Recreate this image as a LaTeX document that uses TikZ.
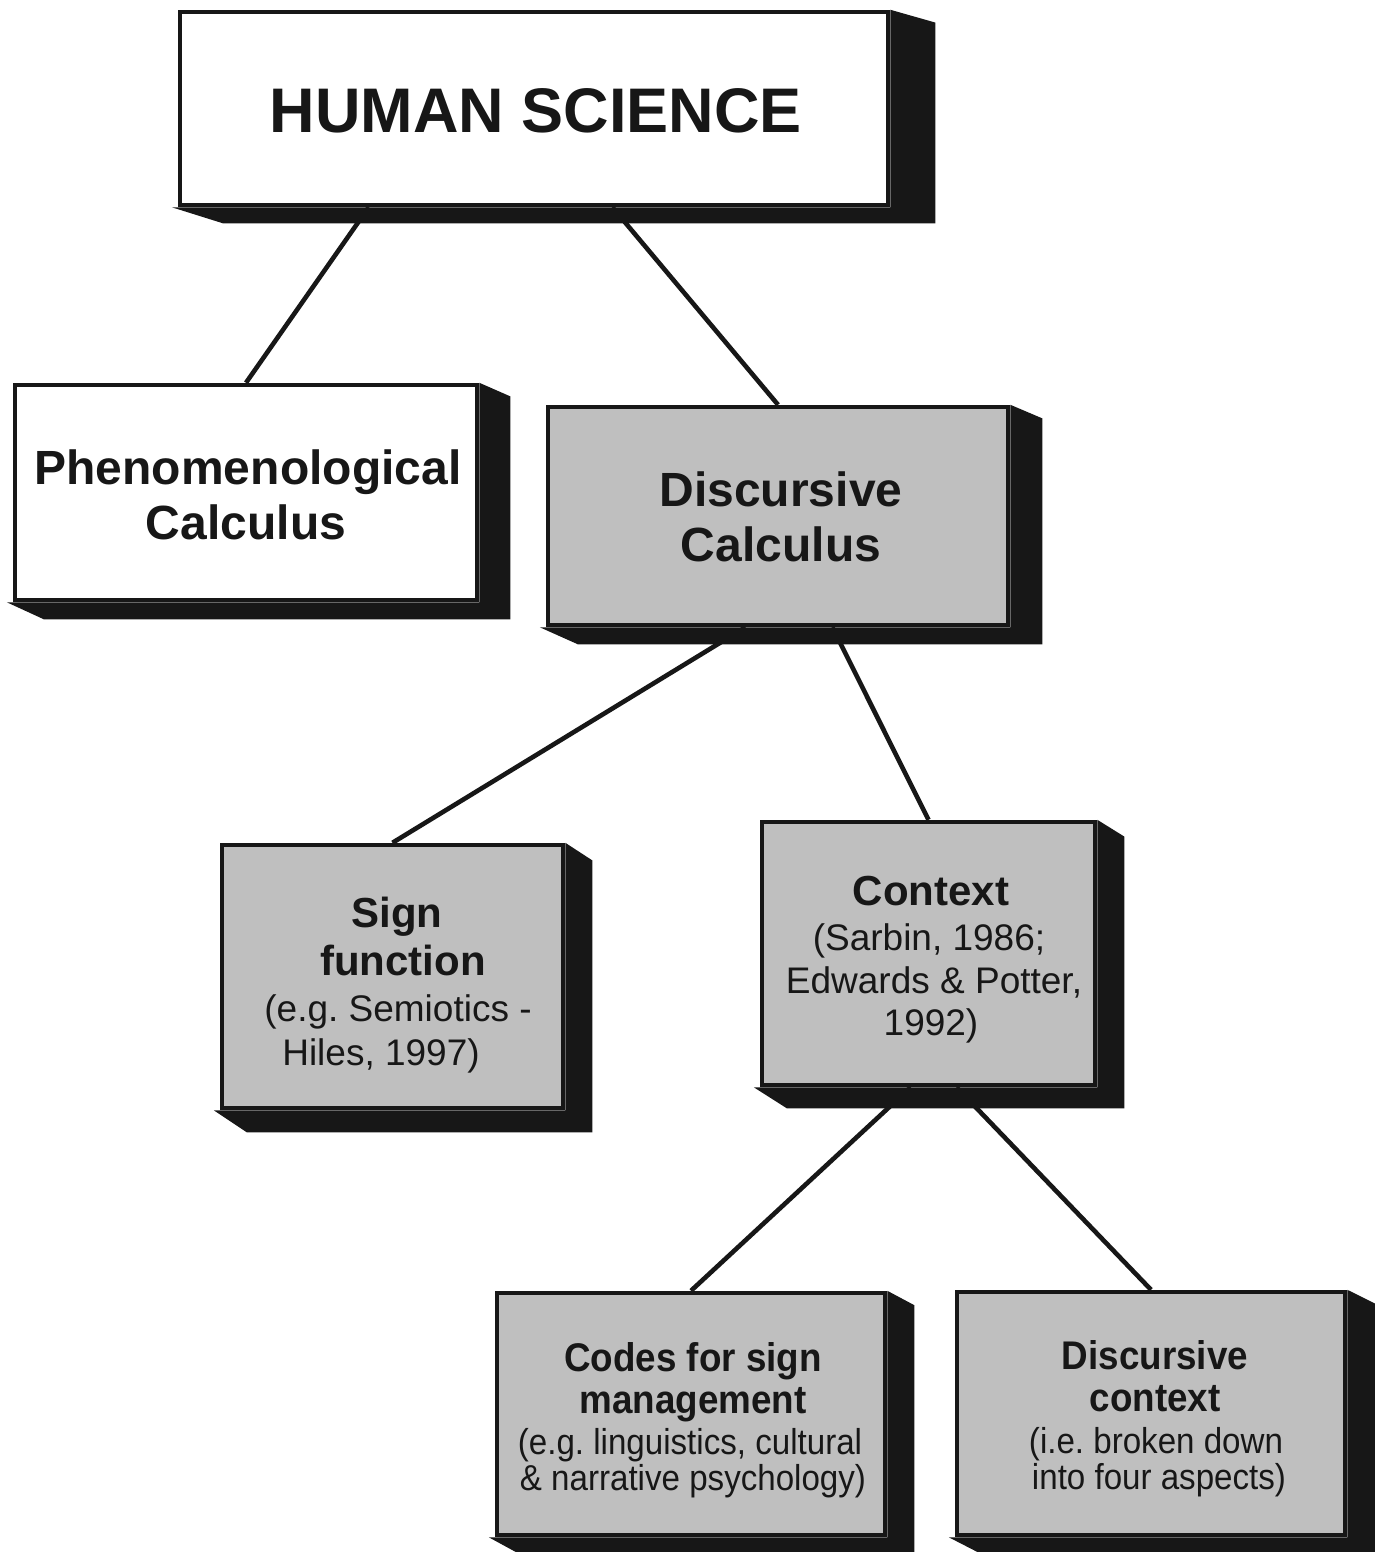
\documentclass[tikz,border=0pt]{standalone}
\usepackage{fontspec}
\setmainfont{Liberation Sans}
\newfontfamily\narrowsans[FakeStretch=0.92]{Liberation Sans}
\usetikzlibrary{calc,backgrounds}
\definecolor{boxgrey}{gray}{0.75}
\definecolor{ink}{gray}{0.09}
\tikzset{
  box/.style={rectangle, draw=ink, line width=4.5pt, inner sep=0pt},
  whitebox/.style={box, fill=white},
  greybox/.style={box, fill=boxgrey},
  link/.style={draw=ink, line width=4.6pt},
  txt/.style={anchor=base, inner sep=0pt, text=ink},
  hsfont/.style={font=\fontsize{63}{63}\selectfont\bfseries},
  bigfont/.style={font=\fontsize{48}{48}\selectfont\bfseries},
  midfont/.style={font=\fontsize{42}{42}\selectfont\bfseries},
  midreg/.style={font=\fontsize{37}{37}\selectfont},
  lowfont/.style={font=\narrowsans\fontsize{40}{40}\selectfont\bfseries},
  lowreg/.style={font=\narrowsans\fontsize{36}{36}\selectfont},
}
% solid block extruded to the right and below a box: node, depth x, depth y
\newcommand{\solidside}[3]{%
  \fill[ink] ([xshift=-6pt]#1.south west)
    -- ([xshift=#2pt,yshift=-#3pt]#1.south west)
    -- ([xshift=#2pt,yshift=-#3pt]#1.south east)
    -- ([xshift=#2pt,yshift=-#3pt*0.8]#1.north east)
    -- (#1.north east) -- (#1.south east) -- cycle;}
\frenchspacing
\begin{document}
\begin{tikzpicture}[x=1pt,y=1pt]
\useasboundingbox (0,0) rectangle (1374,-1552);

% boxes
\node[whitebox, minimum width=708pt, minimum height=193pt] (hs) at (534,-108.5) {};
\node[whitebox, minimum width=462pt, minimum height=215pt] (phen) at (246,-492.5) {};
\node[greybox, minimum width=460pt, minimum height=218pt] (disc) at (778,-516) {};
\node[greybox, minimum width=341pt, minimum height=263pt] (sign) at (392.5,-976.5) {};
\node[greybox, minimum width=333pt, minimum height=263pt] (ctx) at (928.5,-953.5) {};
\node[greybox, minimum width=388pt, minimum height=242pt] (codes) at (691,-1414) {};
\node[greybox, minimum width=388pt, minimum height=243pt] (dctx) at (1151,-1413.5) {};

\begin{pgfonlayer}{background}
  \fill[white] (0,0) rectangle (1374,-1552);
  % connectors
  \draw[link] ($(hs.south west)!0.268!(hs.south east)$) -- (phen.north);
  \draw[link] ($(hs.south west)!0.61!(hs.south east)$) -- (disc.north);
  \draw[link] ($(disc.south west)!0.43!(disc.south east)$) -- (sign.north);
  \draw[link] ($(disc.south west)!0.617!(disc.south east)$) -- (ctx.north);
  \draw[link] ($(ctx.south west)!0.447!(ctx.south east)$) -- (codes.north);
  \draw[link] ($(ctx.south west)!0.583!(ctx.south east)$) -- (dctx.north);
  % extruded sides
  \solidside{hs}{45}{16}
  \solidside{phen}{31}{17}
  \solidside{disc}{32}{17}
  \solidside{sign}{27}{22}
  \solidside{ctx}{27}{21}
  \solidside{codes}{27}{18}
  \solidside{dctx}{29}{18}
\end{pgfonlayer}

% labels
\node[txt, hsfont] (hs-l1) at (536,-132) {HUMAN SCIENCE};

\node[txt, bigfont] (phen-l1) at (248,-484) {Phenomenological};
\node[txt, bigfont] (phen-l2) at (246,-539) {Calculus};

\node[txt, bigfont] (disc-l1) at (781,-506) {Discursive};
\node[txt, bigfont] (disc-l2) at (781,-561) {Calculus};

\node[txt, midfont] (sign-l1) at (397,-927) {Sign};
\node[txt, midfont] (sign-l2) at (403,-975) {function};
\node[txt, midreg] (sign-l3) at (398,-1021) {(e.g. Semiotics -};
\node[txt, midreg] (sign-l4) at (381,-1065) {Hiles, 1997)};

\node[txt, midfont] (ctx-l1) at (931,-905) {Context};
\node[txt, midreg] (ctx-l2) at (929,-950) {(Sarbin, 1986;};
\node[txt, midreg] (ctx-l3) at (934,-993) {Edwards \& Potter,};
\node[txt, midreg] (ctx-l4) at (931,-1035) {1992)};

\node[txt, lowfont] (codes-l1) at (693,-1371) {Codes for sign};
\node[txt, lowfont] (codes-l2) at (693,-1413) {management};
\node[txt, lowreg] (codes-l3) at (690,-1454) {(e.g. linguistics, cultural};
\node[txt, lowreg] (codes-l4) at (693,-1490) {\& narrative psychology)};

\node[txt, lowfont] (dctx-l1) at (1155,-1369) {Discursive};
\node[txt, lowfont] (dctx-l2) at (1155,-1411) {context};
\node[txt, lowreg] (dctx-l3) at (1156,-1453) {(i.e. broken down};
\node[txt, lowreg] (dctx-l4) at (1159,-1489) {into four aspects)};
\end{tikzpicture}
\end{document}
